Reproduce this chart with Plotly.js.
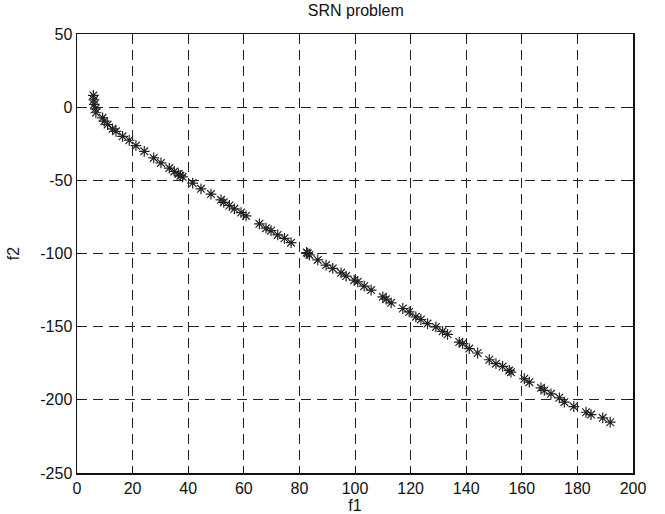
<!DOCTYPE html>
<html>
<head>
<meta charset="utf-8">
<script src="https://cdn.plot.ly/plotly-3.0.1.min.js"></script>
<style>html,body{margin:0;padding:0;background:#fff;}#chart{width:665px;height:514px;}</style>
</head>
<body>
<div id="chart"></div>
<script>
const f1 = [5.9, 6.1, 6.2, 6.6, 6.8, 9.2, 9.8, 11.0, 12.8, 14.0, 16.4, 18.8, 21.2, 24.2, 27.6, 30.2, 33.2, 35.0, 36.5, 37.2, 38.0, 41.6, 44.6, 48.2, 51.8, 52.8, 54.8, 56.6, 59.0, 60.8,
  65.6, 68.0, 69.8, 72.2, 74.6, 77.0, 82.6, 83.0, 83.6, 86.6, 89.6, 92.0, 95.0, 96.8, 99.7, 101.0, 103.3, 105.8, 110.0, 111.2, 113.0, 117.2, 119.5, 121.9, 123.7, 126.1, 129.1, 131.5, 133.3,
  137.5, 138.7, 141.1, 144.1, 148.3, 150.7, 153.1, 155.5, 156.1, 160.9, 162.7, 166.9, 168.1, 170.5, 173.5, 175.3, 178.7, 183.1, 184.9, 189.1, 191.8];
const f2 = [8.0, 5.0, 1.9, -1.1, -3.8, -7.3, -9.6, -11.9, -14.8, -16.5, -19.9, -22.6, -26.3, -30.2, -34.7, -38.1, -41.6, -43.9, -45.6, -46.8, -47.6, -51.9, -55.8, -59.4, -63.3, -65.0, -67.2, -69.5, -72.0, -74.3,
  -79.7, -82.7, -84.4, -87.3, -89.6, -92.6, -99.3, -99.9, -101.0, -104.4, -107.9, -110.2, -113.2, -115.4, -118.2, -119.3, -122.3, -125.0, -129.6, -131.2, -133.7, -137.6, -139.9, -143.3, -145.1, -147.9, -150.2, -153.2, -155.2,
  -160.5, -161.6, -165.0, -168.0, -172.6, -175.3, -177.2, -179.9, -181.1, -185.6, -187.9, -191.8, -193.6, -195.9, -198.6, -201.6, -204.6, -208.5, -210.1, -212.3, -215.3];
const xTicks = [0, 20, 40, 60, 80, 100, 120, 140, 160, 180, 200];
const yTicks = [-250, -200, -150, -100, -50, 0, 50];

const font = {family: 'Liberation Sans, Arial, sans-serif', size: 16, color: '#111'};
const axisCommon = {
  showline: true, linecolor: '#111', linewidth: 1.5, mirror: 'ticks',
  ticks: 'inside', ticklen: 5, tickcolor: '#111', tickwidth: 1,
  showgrid: true, gridcolor: '#222', gridwidth: 1, griddash: '10px,6px',
  zeroline: false, tickfont: font
};
const trace = {
  x: f1, y: f2, type: 'scatter', mode: 'markers',
  marker: {symbol: 'asterisk-open', size: 9, color: '#222', line: {color: '#222', width: 1.2}},
  hoverinfo: 'skip'
};
const layout = {
  width: 665, height: 514,
  margin: {l: 77, r: 32, t: 34, b: 41},
  paper_bgcolor: '#fff', plot_bgcolor: '#fff',
  showlegend: false,
  font: font,
  title: {text: 'SRN problem', font: {family: font.family, size: 16, color: '#111'}, x: 0.535, xanchor: 'center', y: 0.99, yanchor: 'top'},
  xaxis: Object.assign({}, axisCommon, {range: [0, 200], tickvals: xTicks, ticktext: xTicks.map(String),
    title: {text: 'f1', font: {family: font.family, size: 16, color: '#111'}, standoff: 0}}),
  yaxis: Object.assign({}, axisCommon, {range: [-250, 50], tickvals: yTicks, ticktext: yTicks.map(String),
    title: {text: 'f2', font: {family: font.family, size: 16, color: '#111'}, standoff: 16}})
};
Plotly.newPlot('chart', [trace], layout, {staticPlot: true, displayModeBar: false});
</script>
</body>
</html>
